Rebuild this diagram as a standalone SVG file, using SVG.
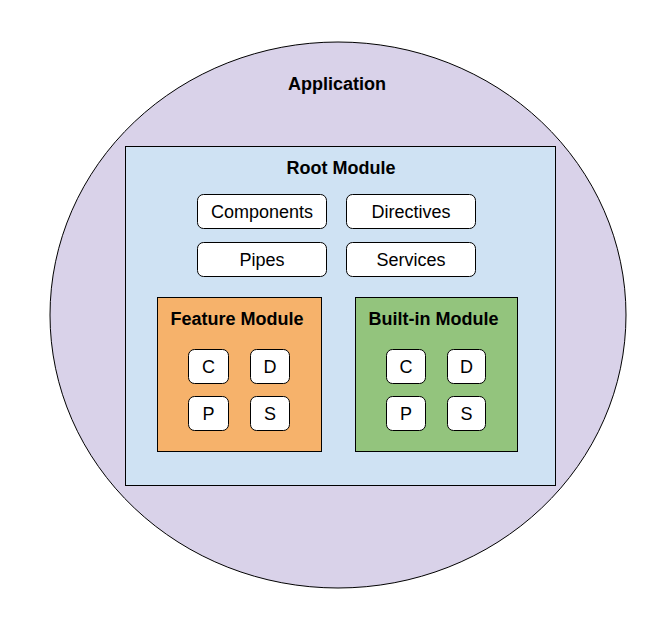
<svg xmlns="http://www.w3.org/2000/svg" width="666" height="621" viewBox="0 0 666 621">
<style>
text{font-family:"Liberation Sans",Arial,sans-serif;font-size:18px;fill:#000;text-anchor:middle}
.b{font-weight:bold}
.box{fill:#fff;stroke:#000;stroke-width:1}
.frame{stroke:#000;stroke-width:1}
</style>
<rect width="666" height="621" fill="#fff"/>
<g id="application">
<ellipse class="frame" cx="338" cy="315" rx="288" ry="273" fill="#d9d2e9"/>
<text class="b" x="337" y="90">Application</text>
</g>
<g id="root-module">
<rect class="frame" x="125.5" y="146.5" width="430" height="339" fill="#cfe2f3"/>
<text class="b" x="341" y="173.5">Root Module</text>
</g>
<g id="components"><rect class="box" x="197.5" y="194.5" width="129" height="34" rx="6"/><text x="262" y="218">Components</text></g>
<g id="directives"><rect class="box" x="346.5" y="194.5" width="129" height="34" rx="6"/><text x="411" y="218">Directives</text></g>
<g id="pipes"><rect class="box" x="197.5" y="242.5" width="129" height="34" rx="6"/><text x="262" y="266">Pipes</text></g>
<g id="services"><rect class="box" x="346.5" y="242.5" width="129" height="34" rx="6"/><text x="411" y="266">Services</text></g>
<g id="feature-module">
<rect class="frame" x="157.5" y="297.5" width="164" height="154" fill="#f6b26b"/>
<text class="b" x="237" y="325">Feature Module</text>
</g>
<g id="feature-c"><rect class="box" x="188.5" y="349.5" width="40" height="34" rx="6"/><text x="208.5" y="373">C</text></g>
<g id="feature-d"><rect class="box" x="250.5" y="349.5" width="39" height="34" rx="6"/><text x="270" y="373">D</text></g>
<g id="feature-p"><rect class="box" x="188.5" y="396.5" width="40" height="34" rx="6"/><text x="208.5" y="420">P</text></g>
<g id="feature-s"><rect class="box" x="250.5" y="396.5" width="39" height="34" rx="6"/><text x="270" y="420">S</text></g>
<g id="builtin-module">
<rect class="frame" x="355.5" y="297.5" width="162" height="154" fill="#93c47d"/>
<text class="b" x="433.5" y="325">Built-in Module</text>
</g>
<g id="builtin-c"><rect class="box" x="386.5" y="349.5" width="39" height="34" rx="6"/><text x="406" y="373">C</text></g>
<g id="builtin-d"><rect class="box" x="447.5" y="349.5" width="38" height="34" rx="6"/><text x="466.5" y="373">D</text></g>
<g id="builtin-p"><rect class="box" x="386.5" y="396.5" width="39" height="34" rx="6"/><text x="406" y="420">P</text></g>
<g id="builtin-s"><rect class="box" x="447.5" y="396.5" width="38" height="34" rx="6"/><text x="466.5" y="420">S</text></g>
<g id="connectors"></g>
</svg>
